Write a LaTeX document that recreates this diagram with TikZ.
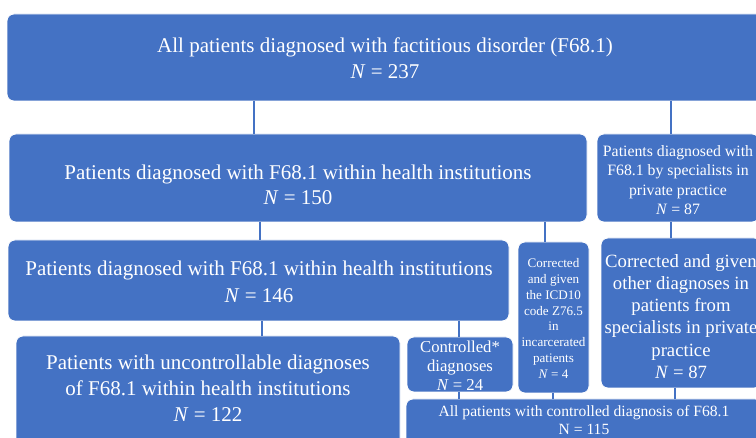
\documentclass[tikz,border=0pt]{standalone}
\usepackage{fontspec}
\setmainfont{Liberation Serif}
\definecolor{boxblue}{HTML}{4472C4}
\newcommand{\fsz}[2]{\fontsize{#1}{#2}\selectfont}
\tikzset{
  box/.style={draw=white, line width=0.8pt, fill=boxblue, rounded corners=7pt, inner sep=0pt, outer sep=0pt, anchor=north west},
  txt/.style={text=white, align=center, inner sep=0pt},
  link/.style={draw=boxblue, line width=2pt}
}
\begin{document}
\begin{tikzpicture}[x=1pt,y=-1pt]
\useasboundingbox (0,0) rectangle (756,438);
% boxes placed by their top-left corners
\node[box, minimum width=756pt, minimum height=87pt] (b1) at (7,14) {};
\node[box, minimum width=578pt, minimum height=88pt] (b2) at (9,134) {};
\node[box, minimum width=162pt, minimum height=88pt] (b3) at (597,134) {};
\node[box, minimum width=501pt, minimum height=81pt] (b4) at (8,240) {};
\node[box, minimum width=71pt, minimum height=151pt] (b5) at (518,242) {};
\node[box, minimum width=160pt, minimum height=150pt] (b6) at (601,238) {};
\node[box, minimum width=384pt, minimum height=114pt] (b7) at (16,336) {};
\node[box, minimum width=106pt, minimum height=55pt] (b8) at (407,337) {};
\node[box, minimum width=356pt, minimum height=61pt] (b9) at (406,399) {};
% texts
\node[txt, font=\fsz{21}{26}] (t1) at (385,58) {All patients diagnosed with factitious disorder (F68.1)\\\textit{N} = 237};
\node[txt, font=\fsz{21}{25}] (t2) at (298,185) {Patients diagnosed with F68.1 within health institutions\\\textit{N} = 150};
\node[txt, font=\fsz{15.8}{19.3}] (t3) at (678,180) {Patients diagnosed with\\F68.1 by specialists in\\private practice\\\textit{N} = 87};
\node[txt, font=\fsz{21}{27}] (t4) at (259,282) {Patients diagnosed with F68.1 within health institutions\\\textit{N} = 146};
\node[txt, font=\fsz{13.1}{15.9}] (t5) at (553.5,318.5) {Corrected\\and given\\the ICD10\\code Z76.5\\in\\incarcerated\\patients\\\textit{N} = 4};
\node[txt, font=\fsz{18.7}{22.2}] (t6) at (681,316.5) {Corrected and given\\other diagnoses in\\patients from\\specialists in private\\practice\\\textit{N} = 87};
\node[txt, font=\fsz{21}{26}] (t7) at (208,388.5) {Patients with uncontrollable diagnoses\\of F68.1 within health institutions\\\textit{N} = 122};
\node[txt, font=\fsz{16.7}{19}] (t8) at (460,366) {Controlled*\\diagnoses\\\textit{N} = 24};
\node[txt, font=\fsz{15.6}{18}] (t9) at (584,420) {All patients with controlled diagnosis of F68.1\\N = 115};
% connectors
\draw[link] (b1.south -| 254,0) -- (b2.north -| 254,0);
\draw[link] (b1.south -| 671,0) -- (b3.north -| 671,0);
\draw[link] (b2.south -| 260,0) -- (b4.north -| 260,0);
\draw[link] (b2.south -| 545,0) -- (b5.north -| 545,0);
\draw[link] (b3.south -| 671,0) -- (b6.north -| 671,0);
\draw[link] (b4.south -| 262,0) -- (b7.north -| 262,0);
\draw[link] (b4.south -| 459,0) -- (b8.north -| 459,0);
\draw[link] (b8.south -| 459,0) -- (b9.north -| 459,0);
\draw[link] (b5.south -| 553,0) -- (b9.north -| 553,0);
\draw[link] (b6.south -| 675,0) -- (b9.north -| 675,0);
\end{tikzpicture}
\end{document}
